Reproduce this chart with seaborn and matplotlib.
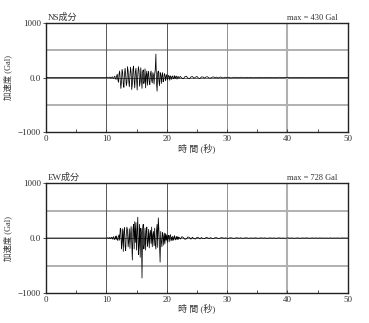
import numpy as np
import pandas as pd
import matplotlib
matplotlib.use("Agg")
import matplotlib.pyplot as plt
import seaborn as sns

# ---- data ----
ns_main = [0, 3, 5, -2, -6, 4, 8, -5, -10, 6,
           12, -8, -15, 10, 25, -20, -35, 30, 60, -40,
           -90, 70, 120, -60, -200, -80, 150, 90, -120, -180,
           60, 170, 40, -150, -90, 200, 120, -60, -170, 30,
           190, 80, -220, -120, 150, 210, -60, -190, 100, 170,
           -40, -230, 50, 200, 130, -160, -80, 180, -30, -200,
           90, 140, -110, -60, 160, -190, 40, 120, -140, 60,
           110, -90, -130, 70, 120, -50, -100, 90, 40, -120,
           60, 150, 430, -100, -250, 80, 120, -60, -150, 90,
           70, -110, 30, 90, -80, -40, 70, 50, -60, 20,
           55, -45, -20, 40, 25, -50, 30, 15, -35, 20,
           30, -25, -10, 35, -20, 15, 25, -30, 10, 20,
           -15]
ns_tail = [20, -10, -22, 15, 25, -12, -20, 10,
           18, -15, 5, 20, -10, -18, 12, 8,
           -12, 10, 14, -8, -12, 6, 10, -5,
           8, -10, 4, 8, -6, -4, 6, -5,
           5, -4, -6, 3, 5, -3, 4, -4,
           3, 5, -4, -2, 4, -3, 2, 4,
           -3, -4, 3, 2, -3, 4, -2, -3,
           3, 2, -3, 4, -2, -3, 3, 2,
           -2, 3, 4, -3, -2, 3, -3, 2,
           3, -2, -3, 2, 3, -2, 2, -3,
           2, 3, -2, -3, 2, 2, -3, 2,
           -2, 2, 3, -2, -2, 3, 2, -2,
           2, -3, 2, 2, -2, 3, -2, 2,
           -2, 2, 1, -2, 2, -1, 1, 0]

ew_main = [0, -3, 6, 4, -8, 10, -5, -12, 15, 8,
           -20, 15, 25, -30, -10, 35, -25, 40, -30, -45,
           30, 60, -40, 180, 150, -200, -60, 170, -245, 120,
           190, -150, -230, 80, 200, 140, -160, -60, 170, -190,
           60, 210, -120, -400, 160, 250, -200, 300, -80, 280,
           -220, 120, 380, -300, -150, 250, -350, 180, 100, -728,
           150, 250, -200, -100, 180, -220, 130, 200, -150, -60,
           160, -180, 70, 140, -100, 200, -160, 50, 120, -140,
           180, -110, -200, 130, 250, -170, 367, 150, -120, -440,
           120, -60, -160, 100, 40, -130, 90, -100, 80, -40,
           60, -80, 30, 50, -70, 40, 60, -50, 20, -45,
           35, -40, 10, 45, -35, -15, 30, -30, 25, -25,
           20]
ew_tail = [-18, 25, 10, -22, -15, 20, 12, -20,
           15, -10, -18, 12, 8, -15, 10, -8,
           -12, 10, 6, -10, 8, -6, -8, 6,
           7, -6, -4, 6, 5, -5, 4, -4,
           -4, 5, 3, -4, -3, 4, 3, -3,
           4, -3, -2, 3, 4, -3, -2, 3,
           -3, 2, 3, -2, -3, 3, 2, -2,
           3, -2, -3, 2, 2, -3, 3, -2,
           -2, 3, 2, -3, 2, -2, -3, 2,
           2, -2, 3, -2, -3, 2, 2, -2,
           -2, 3, -2, 2, 3, -2, -2, 2,
           2, -2, 3, -3, 2, 2, -2, 2,
           -2, 2, -3, 2, 2, -2, 2, -2,
           2, -1, -2, 2, 1, -2, 1, 0]

titles = ["NS成分", "EW成分"]
max_labels = ["max = 430 Gal", "max = 728 Gal"]
x_ticks = [0, 10, 20, 30, 40, 50]
y_ticks = [-1000, 0, 1000]
y_ticklabels = ["\u22121000", "0.0", "1000"]
x_label = "時 間 (秒)"
y_label = "加速度 (Gal)"

t_main = np.round(np.linspace(10.0, 22.0, len(ns_main)), 3)
t_tail = np.round(np.linspace(22.25, 50.0, len(ns_tail)), 3)
t_all = np.concatenate([[0.0], t_main, t_tail])

series = [np.concatenate([[0.0], ns_main, ns_tail]),
          np.concatenate([[0.0], ew_main, ew_tail])]

sns.set_style("ticks")
FAM = ["Liberation Serif", "Noto Sans CJK JP", "DejaVu Sans"]
plt.rcParams["font.family"] = FAM

fig = plt.figure(figsize=(3.69, 3.23), dpi=100)
positions = [[0.1247, 0.591, 0.818, 0.338], [0.1247, 0.093, 0.818, 0.340]]

for i in range(2):
    ax = fig.add_axes(positions[i])
    df = pd.DataFrame({"t": t_all, "a": series[i]})
    # grid
    for yv in (-500, 500):
        ax.axhline(yv, color="#b0b0b0", lw=1.4, zorder=0)
    ax.axhline(0, color="#555555", lw=0.6, zorder=0)
    for xv, c, w in ((10, "#555555", 0.7), (20, "#555555", 0.7),
                     (30, "#909090", 0.7), (40, "#b0b0b0", 1.5)):
        ax.axvline(xv, color=c, lw=w, zorder=0)
    sns.lineplot(data=df, x="t", y="a", ax=ax, color="black", lw=0.55,
                 estimator=None, sort=False, zorder=3)
    ax.set_xlim(0, 50)
    ax.set_ylim(-1000, 1000)
    ax.set_xticks(x_ticks)
    ax.set_xticks([5, 15, 25, 35, 45], minor=True)
    ax.set_yticks(y_ticks)
    ax.set_yticklabels(y_ticklabels)
    ax.tick_params(axis="x", which="both", direction="in", length=2.5,
                   width=0.6, labelsize=6.5, pad=2, colors="#333333")
    ax.tick_params(axis="y", direction="out", length=2.5, width=0.6,
                   labelsize=6.5, pad=1, colors="#333333")
    for s in ax.spines.values():
        s.set_visible(True)
        s.set_color("#222222")
        s.set_linewidth(1.0)
    ax.set_xlabel(x_label, fontsize=6.5, labelpad=0, color="#333333")
    ax.set_ylabel(y_label, fontsize=6, labelpad=4, color="#333333")
    ax.text(0.005, 1.01, titles[i], transform=ax.transAxes, ha="left",
            va="bottom", fontsize=6.5, color="#333333")
    ax.text(0.965, 1.01, max_labels[i], transform=ax.transAxes, ha="right",
            va="bottom", fontsize=6, color="#333333")

fig.savefig("out.png", dpi=100, facecolor="white")
